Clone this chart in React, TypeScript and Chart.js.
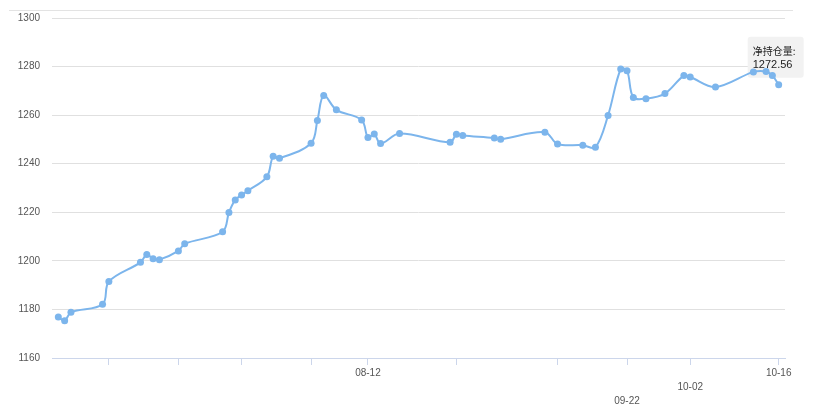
import React, { useEffect, useRef } from 'react';
import { Chart, registerables } from 'chart.js';

Chart.register(...registerables);

// ---- data ----
const dates = [
  '06-24', '06-25', '06-26', '07-01', '07-02', '07-07', '07-08', '07-09', '07-10', '07-13',
  '07-14', '07-20', '07-21', '07-22', '07-23', '07-24', '07-27', '07-28', '07-29', '08-03',
  '08-04', '08-05', '08-07', '08-11', '08-12', '08-13', '08-14', '08-17', '08-25', '08-26',
  '08-27', '09-01', '09-02', '09-09', '09-11', '09-15', '09-17', '09-19', '09-21', '09-22',
  '09-23', '09-25', '09-28', '10-01', '10-02', '10-06', '10-12', '10-14', '10-15', '10-16',
];
const values = [
  1176.9, 1175.3, 1178.8, 1182.1, 1191.5, 1199.4, 1202.6, 1200.9, 1200.5, 1204.1,
  1207.0, 1212.0, 1219.9, 1225.1, 1227.1, 1228.9, 1234.6, 1243.1, 1242.3, 1248.4,
  1257.8, 1268.1, 1262.2, 1258.0, 1250.8, 1252.2, 1248.3, 1252.4, 1248.8, 1252.1,
  1251.6, 1250.6, 1250.1, 1253.0, 1248.1, 1247.6, 1246.8, 1259.9, 1279.0, 1278.3,
  1267.3, 1266.8, 1268.9, 1276.3, 1275.7, 1271.6, 1277.8, 1278.0, 1276.3, 1272.56,
];
const tickDates = ['07-02', '07-13', '07-23', '08-03', '08-12', '08-26', '09-11', '09-22', '10-02', '10-16'];
const shownLabels = ['08-12', '09-22', '10-02', '10-16'];
const shownLabelRows = [0, 2, 1, 0];
const xMinDate = '06-23';
const xMaxDate = '10-17';
const yMin = 1160;
const yMax = 1300;
const yStep = 20;
const seriesName = '净持仓量';

function dayOf(md: string): number {
  const [m, d] = md.split('-').map(Number);
  return Date.UTC(2020, m - 1, d) / 86400000;
}
function mdOf(day: number): string {
  const dt = new Date(Math.round(day) * 86400000);
  const m = String(dt.getUTCMonth() + 1).padStart(2, '0');
  const d = String(dt.getUTCDate()).padStart(2, '0');
  return `${m}-${d}`;
}

const topLinePlugin = {
  id: 'topLine',
  beforeDraw(chart: any) {
    const { ctx, chartArea } = chart;
    ctx.save();
    ctx.strokeStyle = '#e3e3e3';
    ctx.lineWidth = 1;
    ctx.beginPath();
    ctx.moveTo(chartArea.left - 43, chartArea.top - 7.5);
    ctx.lineTo(chartArea.right + 8, chartArea.top - 7.5);
    ctx.stroke();
    ctx.restore();
  },
};

const tipPlugin = {
  id: 'fixedTip',
  beforeDatasetsDraw(chart: any) {
    const meta = chart.getDatasetMeta(0);
    const pt = meta.data[meta.data.length - 1];
    if (!pt) return;
    const ctx = chart.ctx;
    const bx = pt.x - 31;
    const by = pt.y - 48;
    ctx.save();
    ctx.fillStyle = '#f2f2f2';
    ctx.beginPath();
    ctx.roundRect(bx, by, 56, 41, 3);
    ctx.fill();
    ctx.restore();
  },
  afterDatasetsDraw(chart: any) {
    const meta = chart.getDatasetMeta(0);
    const pt = meta.data[meta.data.length - 1];
    if (!pt) return;
    const ctx = chart.ctx;
    const bx = pt.x - 31;
    const by = pt.y - 48;
    ctx.save();
    ctx.fillStyle = '#222';
    ctx.textAlign = 'left';
    ctx.textBaseline = 'middle';
    ctx.font = '10px "Noto Sans CJK SC", "Liberation Sans", sans-serif';
    ctx.fillText(seriesName + ':', bx + 5, by + 15);
    ctx.font = '11px "Liberation Sans", Arial, sans-serif';
    ctx.fillText(values[values.length - 1].toFixed(2), bx + 5, by + 28);
    ctx.restore();
  },
};

export default function App() {
  const ref = useRef<HTMLCanvasElement | null>(null);

  useEffect(() => {
    document.body.style.margin = '0';
    const canvas = ref.current;
    if (!canvas) return;
    const tickValues = tickDates.map(dayOf);
    const chart = new Chart(canvas, {
      type: 'line',
      data: {
        datasets: [
          {
            label: seriesName,
            data: dates.map((d, i) => ({ x: dayOf(d), y: values[i] })),
            borderColor: '#7cb5ec',
            backgroundColor: '#7cb5ec',
            borderWidth: 2,
            pointRadius: 3.5,
            pointBorderWidth: 0,
            pointBackgroundColor: '#7cb5ec',
            tension: 0.35,
            fill: false,
          },
        ],
      },
      options: {
        responsive: false,
        animation: false,
        layout: { padding: { left: 0, right: 44, top: 15, bottom: 0 } },
        plugins: {
          legend: { display: false },
          tooltip: { enabled: false },
        },
        scales: {
          x: {
            type: 'linear',
            min: dayOf(xMinDate),
            max: dayOf(xMaxDate),
            afterBuildTicks(scale: any) {
              scale.ticks = tickValues.map((v) => ({ value: v }));
            },
            afterFit(scale: any) {
              scale.height = 54;
            },
            grid: {
              drawOnChartArea: false,
              drawTicks: true,
              tickLength: 7,
              color: '#ccd6eb',
            },
            border: { display: true, color: '#ccd6eb', width: 1 },
            ticks: {
              autoSkip: false,
              maxRotation: 0,
              padding: 1,
              color: '#555',
              font: { size: 10, family: '"Liberation Sans", Arial, sans-serif', lineHeight: 1.4 },
              callback(value: any) {
                const md = mdOf(Number(value));
                const idx = shownLabels.indexOf(md);
                if (idx < 0) return '';
                const row = shownLabelRows[idx];
                const arr: string[] = [];
                for (let i = 0; i < row; i++) arr.push('');
                arr.push(md);
                return arr.length === 1 ? md : arr;
              },
            },
          },
          y: {
            min: yMin,
            max: yMax,
            afterFit(scale: any) {
              scale.width = 52;
            },
            grid: { color: '#e0e0e0', drawTicks: false, lineWidth: 1 },
            border: { display: false },
            ticks: {
              stepSize: yStep,
              padding: 12,
              color: '#555',
              font: { size: 10, family: '"Liberation Sans", Arial, sans-serif' },
              callback(value: any) {
                return String(value);
              },
            },
          },
        },
      },
      plugins: [topLinePlugin, tipPlugin],
    });
    return () => chart.destroy();
  }, []);

  return (
    <div style={{ width: 829, height: 412 }}>
      <canvas ref={ref} width={829} height={412} style={{ display: 'block' }} />
    </div>
  );
}
